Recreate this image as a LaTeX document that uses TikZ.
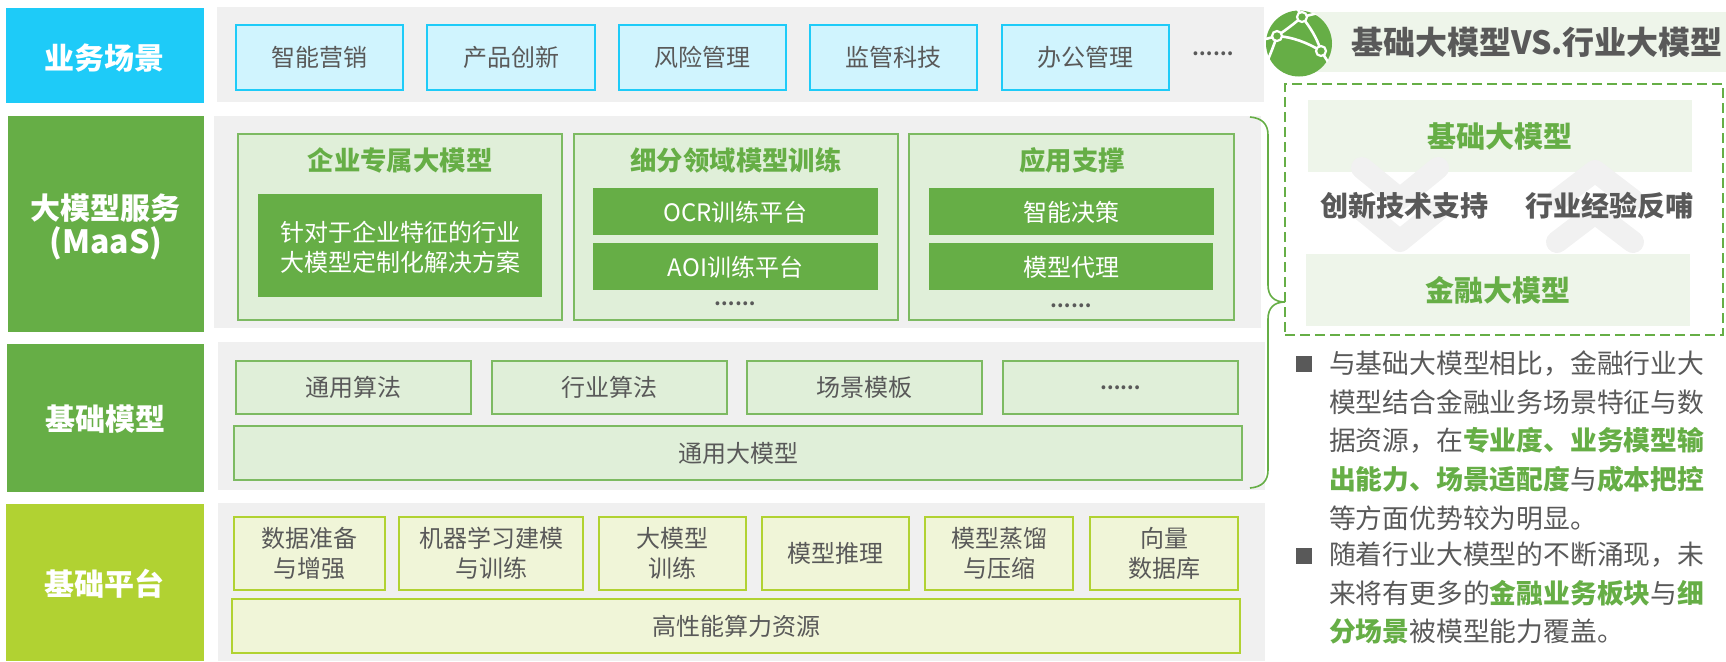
\documentclass[tikz,border=0pt]{standalone}
\usepackage{fontspec}
\setmainfont{Noto Sans CJK SC}
\definecolor{gr}{HTML}{66AE46}
\definecolor{lime}{HTML}{B1D232}
\definecolor{cyanb}{HTML}{1ECBF8}
\definecolor{cyanl}{HTML}{D0F4FE}
\definecolor{pan}{HTML}{F0F0F0}
\definecolor{lg}{HTML}{E0EFD9}
\definecolor{ll}{HTML}{F0F5D8}
\definecolor{band}{HTML}{EEF5EA}
\definecolor{tx}{HTML}{595959}
\definecolor{chev}{HTML}{F1F1F1}
\newcommand\rb[7]{%
  \pgfmathsetmacro\rbw{(#4-#2)*0.5}\pgfmathsetmacro\rbh{(#5-#3)*0.5}%
  \node[#6,minimum width=\rbw pt,minimum height=\rbh pt] (#1) at ({(#2+#4)/2},{(#3+#5)/2}) {#7};}
\newcommand\gt[1]{\textcolor{gr}{\textbf{#1}}}
\tikzset{
  x=0.5pt,y=-0.5pt,
  bas/.style={inner sep=0pt,outer sep=0pt,align=center},
  rowlabel/.style={bas,fill=#1},
  labeltext/.style={bas,text=white,font=\fontsize{15}{17}\selectfont\bfseries},
  panel/.style={bas,fill=pan},
  item/.style={bas,draw=gr!85!white,line width=0.65pt,fill=#1,text=tx,font=\fontsize{12}{15}\selectfont},
  head/.style={bas,draw=gr!85!white,line width=0.65pt,fill=lg},
  ttl/.style={bas,text=gr,font=\fontsize{13.2}{16}\selectfont\bfseries},
  dark/.style={bas,fill=gr},
  darktext/.style={bas,text=white,font=\fontsize{12}{15}\selectfont},
  dots/.style={bas,text=tx,font=\fontsize{9}{10}\selectfont\bfseries},
  limebox/.style={bas,draw=lime,line width=0.8pt,fill=ll,text=tx,font=\fontsize{12}{15}\selectfont},
  bandbox/.style={bas,fill=band},
  bandtext/.style={bas,text=gr,font=\fontsize{14.5}{18}\selectfont\bfseries},
  midtext/.style={bas,text=tx,font=\fontsize{14}{18}\selectfont\bfseries},
  para/.style={inner sep=0pt,outer sep=0pt,anchor=north west,align=left,text=tx,font=\fontsize{13.4}{19.3}\selectfont},
  chev line/.style={draw=chev,line width=11pt,line cap=round,line join=round},
  wire/.style={draw=white,line width=1.3pt},
  ring/.style={circle,draw=white,fill=gr,line width=1.1pt,minimum size=5pt,inner sep=0pt}
}
\begin{document}
\begin{tikzpicture}
\useasboundingbox (0,0) rectangle (1726,661);
% row panels
\rb{p1}{217}{7}{1264}{102}{panel}{}
\rb{p2}{214}{116}{1261}{328}{panel}{}
\rb{p3}{218}{342}{1265}{490}{panel}{}
\rb{p4}{218}{503}{1265}{661}{panel}{}
% row labels
\rb{l1}{6}{8}{204}{103}{rowlabel=cyanb}{}
\rb{l2}{8}{116}{204}{332}{rowlabel=gr}{}
\rb{l3}{7}{344}{204}{492}{rowlabel=gr}{}
\rb{l4}{6}{504}{204}{661}{rowlabel=lime}{}
\node[labeltext] (l1t) at ([yshift=-1.5pt]l1) {业务场景};
\node[labeltext] (l2t) at ([yshift=-1.5pt]l2) {大模型服务\\{\fontsize{16}{17}\selectfont (MaaS)}};
\node[labeltext] (l3t) at ([yshift=-0.5pt]l3) {基础模型};
\node[labeltext] (l4t) at ([yshift=-0.5pt]l4) {基础平台};
% row 1
\rb{a1}{236}{25}{403}{90}{item=cyanl,draw=cyanb}{智能营销}
\rb{a2}{427}{25}{595}{90}{item=cyanl,draw=cyanb}{产品创新}
\rb{a3}{619}{25}{786}{90}{item=cyanl,draw=cyanb}{风险管理}
\rb{a4}{810}{25}{977}{90}{item=cyanl,draw=cyanb}{监管科技}
\rb{a5}{1002}{25}{1169}{90}{item=cyanl,draw=cyanb}{办公管理}
\node[dots] (a6) at (1213,54) {……};
% row 2
\rb{b1}{238}{134}{562}{320}{head}{}
\rb{b2}{574}{134}{898}{320}{head}{}
\rb{b3}{909}{134}{1234}{320}{head}{}
\node[ttl] (t1) at (400,160) {企业专属大模型};
\node[ttl] (t2) at (736,160) {细分领域模型训练};
\node[ttl] (t3) at (1072,160) {应用支撑};
\rb{d1}{258}{194}{542}{297}{dark}{}
\rb{d2}{593}{188}{878}{235}{dark}{}
\rb{d3}{593}{243}{878}{290}{dark}{}
\rb{d4}{929}{188}{1214}{235}{dark}{}
\rb{d5}{929}{243}{1213}{290}{dark}{}
\node[darktext] (d1t) at ([yshift=-1pt]d1) {针对于企业特征的行业\\大模型定制化解决方案};
\node[darktext] (d2t) at ([yshift=-0.5pt]d2) {OCR训练平台};
\node[darktext] (d3t) at ([yshift=-0.5pt]d3) {AOI训练平台};
\node[darktext] (d4t) at ([yshift=-0.5pt]d4) {智能决策};
\node[darktext] (d5t) at ([yshift=-0.5pt]d5) {模型代理};
\node[dots] (b4) at (735,304) {……};
\node[dots] (b5) at (1071,306) {……};
% row 3
\rb{c1}{236}{361}{471}{414}{item=lg}{通用算法}
\rb{c2}{492}{361}{727}{414}{item=lg}{行业算法}
\rb{c3}{747}{361}{982}{414}{item=lg}{场景模板}
\rb{c4}{1003}{361}{1238}{414}{item=lg,dots}{……}
\rb{c5}{234}{426}{1242}{480}{item=lg}{通用大模型}
% row 4
\rb{e1}{234}{517}{385}{590}{limebox}{数据准备\\与增强}
\rb{e2}{399}{517}{583}{590}{limebox}{机器学习建模\\与训练}
\rb{e3}{599}{517}{746}{590}{limebox}{大模型\\训练}
\rb{e4}{762}{517}{909}{590}{limebox}{模型推理}
\rb{e5}{925}{517}{1073}{590}{limebox}{模型蒸馏\\与压缩}
\rb{e6}{1090}{517}{1238}{590}{limebox}{向量\\数据库}
\rb{e7}{232}{599}{1240}{653}{limebox}{高性能算力资源}
% header
\rb{hd}{1290}{12}{1726}{72}{bandbox}{}
\fill[gr] (1299,43.5) circle [radius=33];
\begin{scope}
  \clip (1299,43.5) circle [radius=34];
  \coordinate (n1) at (1302,17);
  \coordinate (n2) at (1277,36);
  \coordinate (n3) at (1321,51);
  \draw[wire] (n2) .. controls (1290,27) and (1296,22) .. (n1);
  \draw[wire] (n2) .. controls (1293,37) and (1308,43) .. (n3);
  \draw[wire] (n1) .. controls (1310,27) and (1317,38) .. (n3);
  \draw[wire] (n3) -- (1332,68);
  \draw[wire] (n2) .. controls (1274,45) and (1270,55) .. (1267,62);
  \draw[wire] (n2) -- (1262,40);
  \draw[wire] (n1) -- (1296,6);
  \draw[wire] (n1) -- (1322,12);
\end{scope}
\node[ring] (r1) at (n1) {};
\node[ring] (r2) at (n2) {};
\node[ring] (r3) at (n3) {};
\node[bas,text=tx,font=\fontsize{16}{20}\selectfont\bfseries] (ht) at (1537,42) {基础大模型VS.行业大模型};
% comparison block
\rb{f1}{1308}{100}{1692}{172}{bandbox}{}
\rb{f2}{1306}{254}{1690}{326}{bandbox}{}
\draw[chev line] (1362,168) -- (1400,199) -- (1438,168);
\draw[chev line] (1362,210) -- (1400,241) -- (1438,210);
\draw[chev line] (1557,200) -- (1595,171) -- (1633,200);
\draw[chev line] (1557,242) -- (1595,213) -- (1633,242);
\node[bandtext] (f1t) at (f1) {基础大模型};
\node[bandtext] (f2t) at (f2) {金融大模型};
\node[midtext] (m1) at (1404,206) {创新技术支持};
\node[midtext] (m2) at (1609,206) {行业经验反哺};
\rb{box}{1285}{84}{1723}{335}{bas,draw=gr,line width=1.25pt,dash pattern=on 5pt off 2.5pt}{}
% brace
\coordinate (tip) at (box.west |- 0,302);
\coordinate (bt) at (1250,117);
\coordinate (bb) at (1250,488);
\draw[gr,line width=0.8pt] (bt) .. controls (1262,118) and (1268,124) .. (1268,135) -- (1268,285) .. controls (1268,296) and (1274,302) .. (tip);
\draw[gr,line width=0.8pt] (tip) .. controls (1274,302) and (1268,308) .. (1268,319) -- (1268,470) .. controls (1268,481) and (1262,487) .. (bb);
% paragraphs
\rb{s1}{1296}{356}{1312}{372}{bas,fill=tx}{}
\rb{s2}{1296}{548}{1312}{564}{bas,fill=tx}{}
\node[para] (q1) at (1329,351) {与基础大模型相比，金融行业大\\模型结合金融业务场景特征与数\\据资源，在\gt{专业度、业务模型输}\\\gt{出能力、场景适配度}与\gt{成本把控}\\等方面优势较为明显。};
\node[para] (q2) at (1329,542) {随着行业大模型的不断涌现，未\\来将有更多的\gt{金融业务板块}与\gt{细}\\\gt{分场景}被模型能力覆盖。};
\end{tikzpicture}
\end{document}
